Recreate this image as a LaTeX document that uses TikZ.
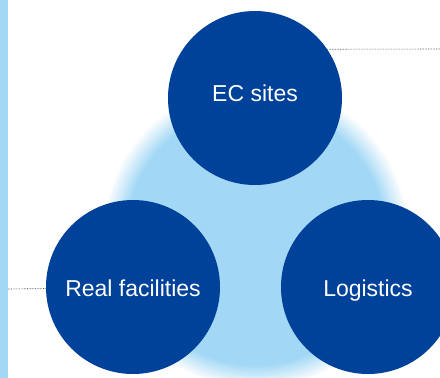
\documentclass[tikz,border=0pt]{standalone}
\usepackage{fontspec}
\setmainfont{Liberation Sans}
\definecolor{navy}{HTML}{00419A}
\definecolor{skyblue}{HTML}{A2D8F5}

\begin{document}
\begin{tikzpicture}[x=1pt, y=-1pt,
    disc/.style={circle, fill=navy, text=white, minimum size=174pt, inner sep=0pt,
                 text height=21pt, text depth=3pt, font=\fontsize{23}{27}\selectfont},
    leader/.style={densely dotted, line width=0.6pt, black!85}]
    \useasboundingbox (0,0) rectangle (440,378);
    \clip (0,0) rectangle (440,378);
    \fill[skyblue] (0,0) rectangle (8,378);
    % soft glow behind the three discs
    \foreach \i in {0,...,12}
        \fill[skyblue!\the\numexpr\i*100/12\relax!white] (256,236) circle ({154-2*\i});
    \node[disc] (ec) at (255,98) {\raisebox{6pt}{EC sites}};
    \node[disc] (real) at (133,287) {Real facilities};
    \node[disc] (logi) at (368,287) {Logistics};
    \coordinate (ecend) at (440,49);
    \coordinate (realend) at (8,289);
    \draw[leader] (ec.34) -- (ecend);
    \draw[leader] (realend) -- (real.181);
\end{tikzpicture}
\end{document}
